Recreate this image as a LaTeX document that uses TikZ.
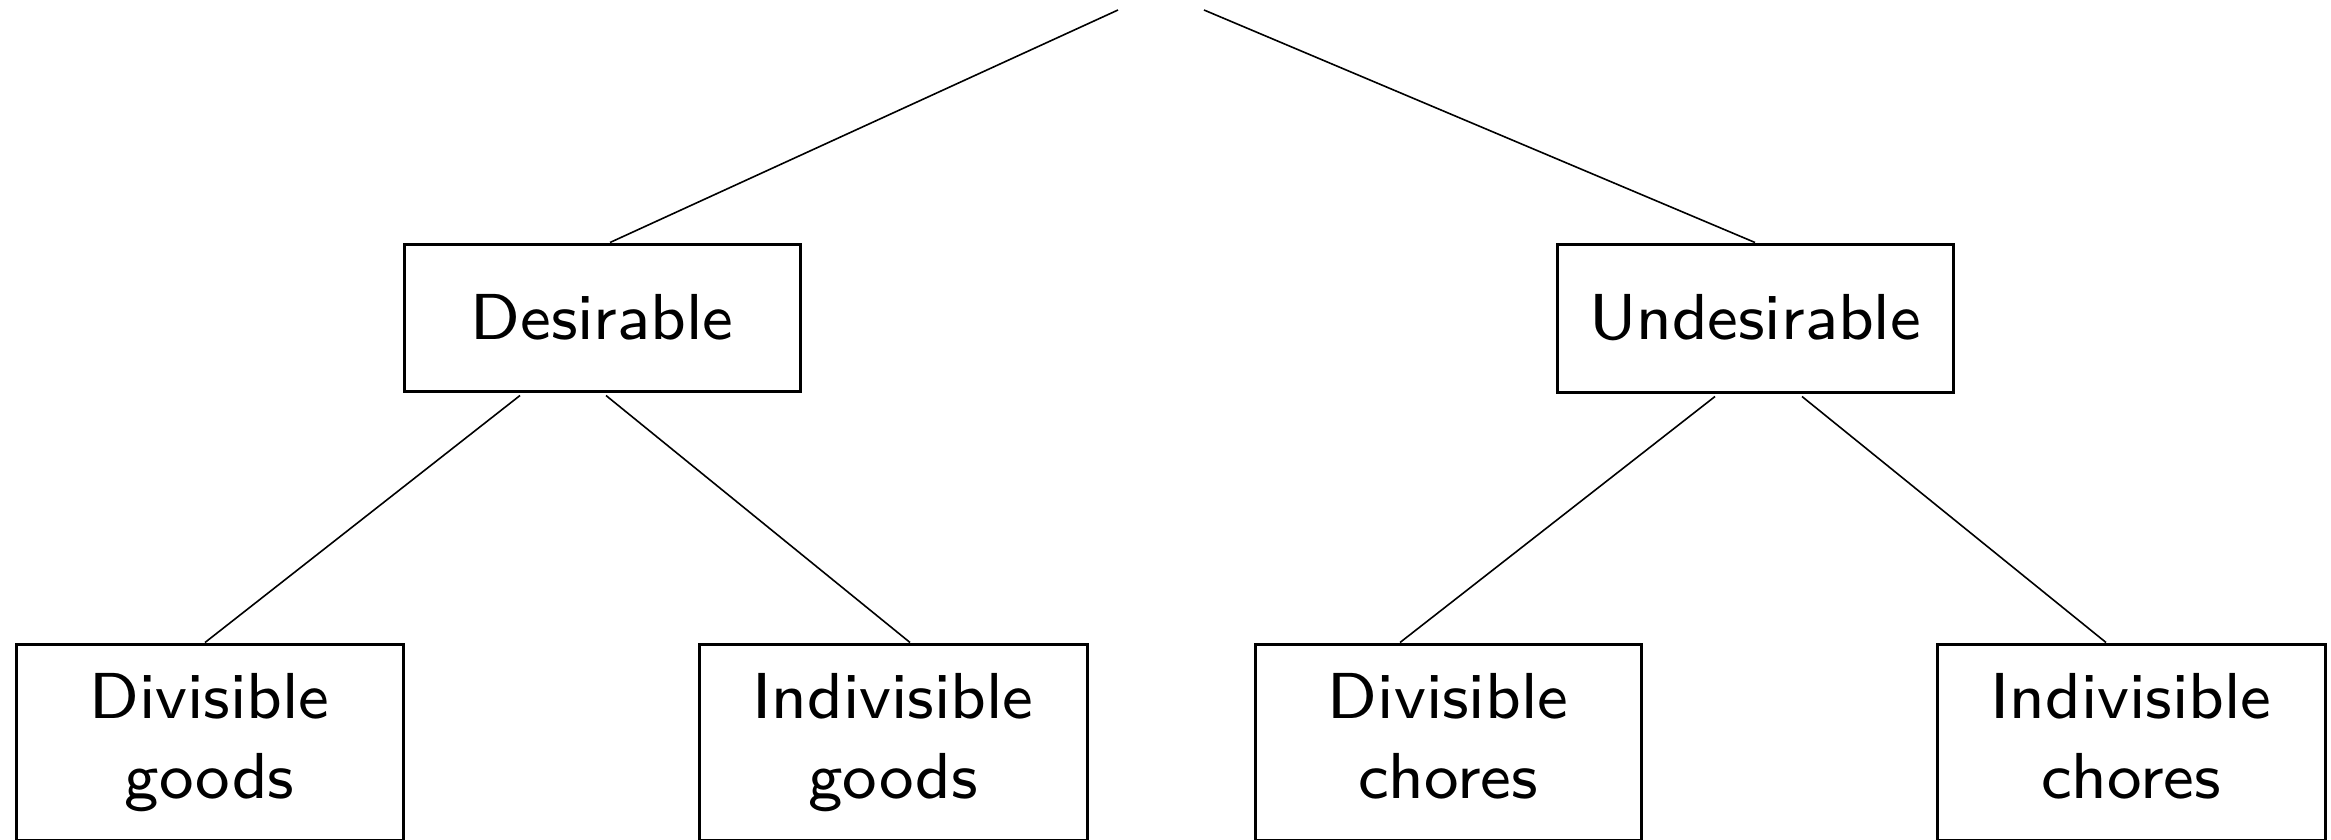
\documentclass[tikz,border=0pt]{standalone}
\usepackage{fontspec}
\newfontfamily\lmseight{lmsans8-regular.otf}
\usetikzlibrary{calc}
\begin{document}
\begin{tikzpicture}[x=1pt,y=-1pt,
  box/.style={draw=black,line width=3pt,rectangle,inner sep=0pt,
    font=\lmseight\fontsize{65}{80}\selectfont,align=center},
  link/.style={draw=black,line width=1.6pt}]
\useasboundingbox (0,0) rectangle (2331,840);
\coordinate (r1) at (1118,10);
\coordinate (r2) at (1204,10);
\node[box,minimum width=396pt,minimum height=147pt] (des) at (602,317.5) {Desirable};
\node[box,minimum width=396pt,minimum height=148pt] (und) at (1755,318) {Undesirable};
\node[box,minimum width=387pt,minimum height=196pt] (dg) at (209.5,742) {\strut Divisible\\\strut goods};
\node[box,minimum width=388pt,minimum height=196pt] (ig) at (893,742) {\strut Indivisible\\\strut goods};
\node[box,minimum width=386pt,minimum height=196pt] (dc) at (1448,742) {\strut Divisible\\\strut chores};
\node[box,minimum width=388pt,minimum height=196pt] (ic) at (2131,742) {\strut Indivisible\\\strut chores};
\draw[link] (r1) -- ($(des.north)+(8,0)$);
\draw[link] (r2) -- (und.north);
\draw[link] ($(des.south)+(-82,3)$) -- ($(dg.north)+(-4.5,0)$);
\draw[link] ($(des.south)+(4,3)$) -- ($(ig.north)+(17,0)$);
\draw[link] ($(und.south)+(-40,3)$) -- ($(dc.north)+(-48,0)$);
\draw[link] ($(und.south)+(47,3)$) -- ($(ic.north)+(-25,0)$);
\end{tikzpicture}
\end{document}
